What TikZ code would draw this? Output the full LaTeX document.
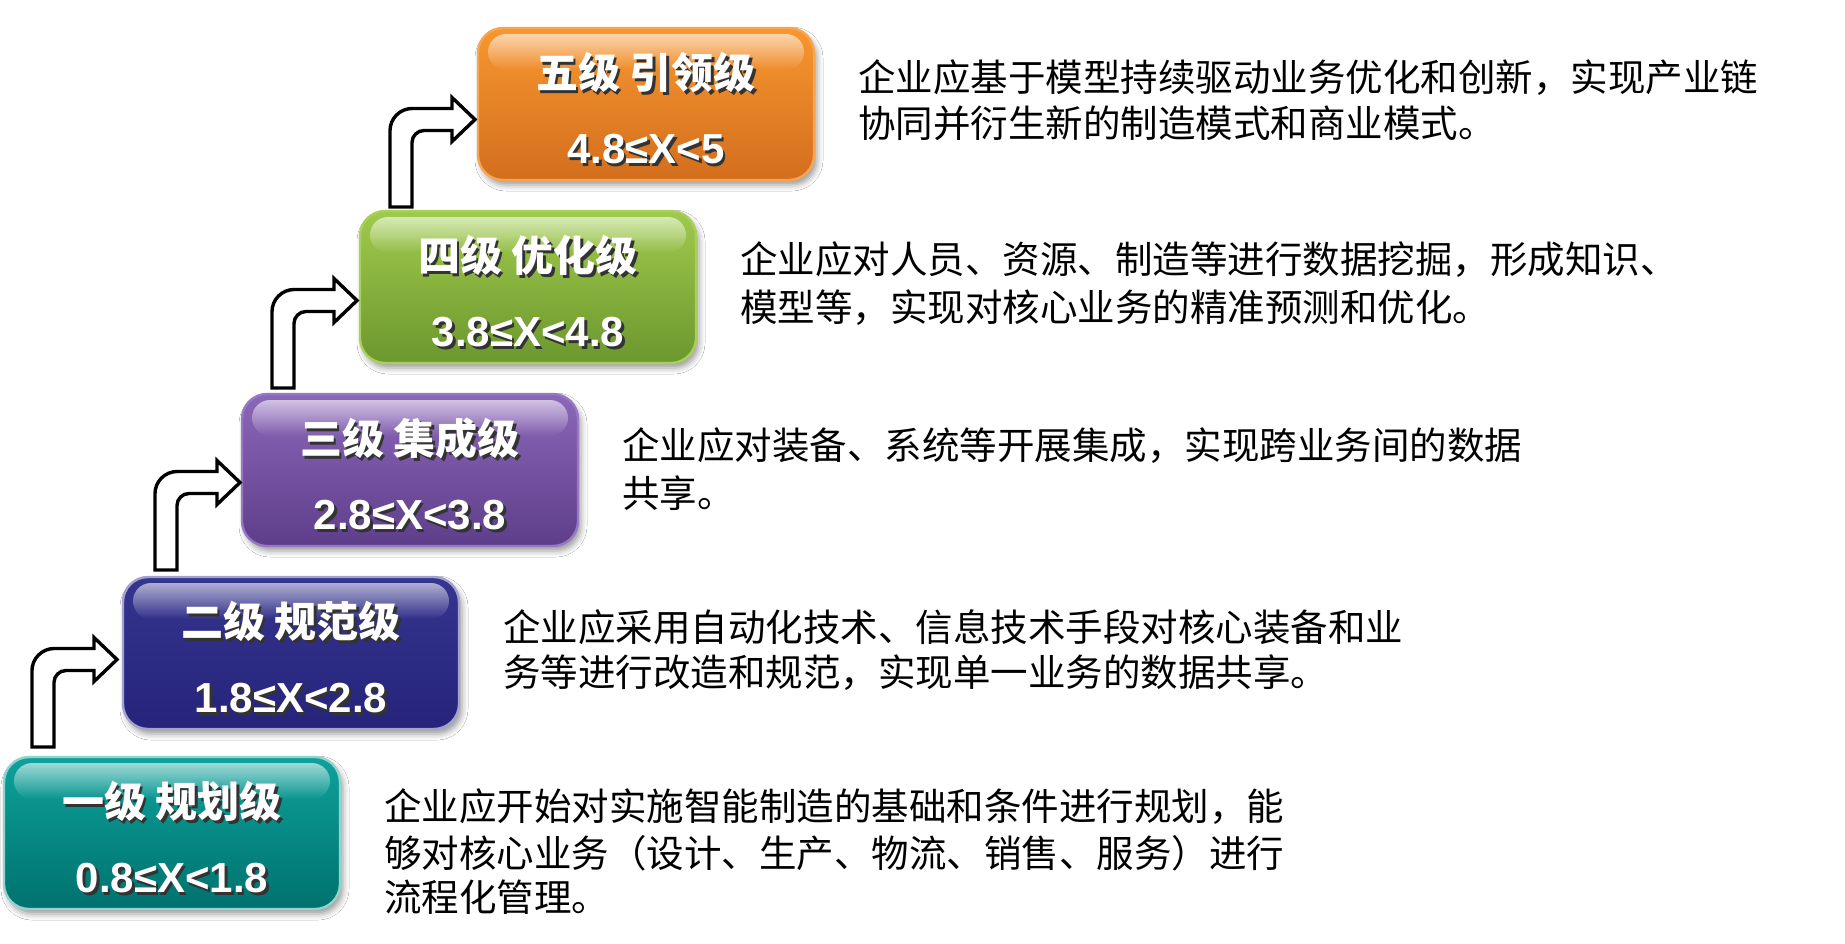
\documentclass[tikz,border=0pt]{standalone}
\usepackage{fontspec}
\setmainfont{Liberation Sans}
\newfontfamily\cjk{Noto Sans CJK SC}
\newfontfamily\arl{Liberation Sans}
\usetikzlibrary{calc,fadings,shadows.blur}
\definecolor{o1}{HTML}{F8962F}\definecolor{o2}{HTML}{D36E1D}\definecolor{oB}{HTML}{F6A552}
\definecolor{g1}{HTML}{A0CA4C}\definecolor{g2}{HTML}{6C972E}\definecolor{gB}{HTML}{A8D05A}
\definecolor{p1}{HTML}{8B67B8}\definecolor{p2}{HTML}{5E3E8B}\definecolor{pB}{HTML}{9678C4}
\definecolor{n1}{HTML}{36358F}\definecolor{n2}{HTML}{25237A}\definecolor{nB}{HTML}{A3A2CF}
\definecolor{c1}{HTML}{0DA29B}\definecolor{c2}{HTML}{00716E}\definecolor{cB}{HTML}{92D3CF}
\newcommand\bentarr[1]{\draw[barr, shift={(#1)}] (0,0) -- (0,-76.5)
  .. controls +(0,-12) and +(-12,0) .. (22,-98.5) -- (62,-98.5) -- (62,-109.5)
  -- (85,-87.5) -- (62,-65.5) -- (62,-76.5) -- (34,-76.5)
  .. controls +(-6.6,0) and +(0,-6.6) .. (22,-64.5) -- (22,0) -- cycle;}
\newcommand\gloss[1]{\fill[white, fill opacity=0.6, path fading=south, rounded corners=9pt]
  ($(#1.north west)+(10,6)$) rectangle ($(#1.north east)+(-10,42)$);}
\begin{document}
\begin{tikzpicture}[x=0.5pt,y=-0.5pt,
  lvbox/.style={rounded corners=12.5pt, minimum width=168pt, minimum height=76pt,
    inner sep=0pt, outer sep=0pt, line width=1.2pt,
    blur shadow={shadow xshift=1.5pt, shadow yshift=-2.5pt, shadow blur radius=3pt, shadow opacity=40}},
  ttl/.style={anchor=base, inner sep=0pt, font=\cjk\bfseries\fontsize{21}{21}\selectfont, text=white},
  rng/.style={anchor=base, inner sep=0pt, font=\arl\bfseries\fontsize{21}{21}\selectfont, text=white},
  shd/.style={text=black!80},
  dsc/.style={anchor=base west, inner sep=0pt, font=\cjk\fontsize{18.75}{18.75}\selectfont, text=black},
  barr/.style={draw=black, line width=1.7pt, fill=white, line join=miter}]
\useasboundingbox (0,0) rectangle (1845,943);
\fill[white] (0,0) rectangle (1845,943);

% boxes
\node[lvbox, top color=c1, bottom color=c2, draw=cB] (b1) at (172,833) {};
\node[lvbox, top color=n1, bottom color=n2, draw=nB] (b2) at (291,653) {};
\node[lvbox, top color=p1, bottom color=p2, draw=pB] (b3) at (410,470) {};
\node[lvbox, top color=g1, bottom color=g2, draw=gB] (b4) at (528,287) {};
\node[lvbox, top color=o1, bottom color=o2, draw=oB] (b5) at (646,104) {};
\gloss{b1}\gloss{b2}\gloss{b3}\gloss{b4}\gloss{b5}

% titles
\foreach \b/\t/\r in {b1/一级 规划级/0.8≤X<1.8, b2/二级 规范级/1.8≤X<2.8, b3/三级 集成级/2.8≤X<3.8,
  b4/四级 优化级/3.8≤X<4.8, b5/五级 引领级/4.8≤X<5}{
  \node[ttl, shd] (\b ts) at ($(\b.north)+(2.5,63)$) {\t};
  \node[ttl] (\b t) at ($(\b.north)+(0,60)$) {\t};
  \node[rng, shd] (\b rs) at ($(\b.north)+(2.5,138)$) {\r};
  \node[rng] (\b r) at ($(\b.north)+(0,135)$) {\r};
}

% arrows
\coordinate (a1) at (32,747);
\coordinate (a2) at (155,570);
\coordinate (a3) at (272,388);
\coordinate (a4) at (390,207);
\bentarr{a1}\bentarr{a2}\bentarr{a3}\bentarr{a4}

% descriptions
\node[dsc] (d5a) at ($(b5.north east)+(44,63)$) {企业应基于模型持续驱动业务优化和创新，实现产业链};
\node[dsc] (d5b) at ($(b5.north east)+(44,109)$) {协同并衍生新的制造模式和商业模式。};
\node[dsc] (d4a) at ($(b4.north east)+(44,62)$) {企业应对人员、资源、制造等进行数据挖掘，形成知识、};
\node[dsc] (d4b) at ($(b4.north east)+(44,110)$) {模型等，实现对核心业务的精准预测和优化。};
\node[dsc] (d3a) at ($(b3.north east)+(44,65)$) {企业应对装备、系统等开展集成，实现跨业务间的数据};
\node[dsc] (d3b) at ($(b3.north east)+(44,113)$) {共享。};
\node[dsc] (d2a) at ($(b2.north east)+(44,64)$) {企业应采用自动化技术、信息技术手段对核心装备和业};
\node[dsc] (d2b) at ($(b2.north east)+(44,109)$) {务等进行改造和规范，实现单一业务的数据共享。};
\node[dsc] (d1a) at ($(b1.north east)+(44,63)$) {企业应开始对实施智能制造的基础和条件进行规划，能};
\node[dsc] (d1b) at ($(b1.north east)+(44,110)$) {够对核心业务（设计、生产、物流、销售、服务）进行};
\node[dsc] (d1c) at ($(b1.north east)+(44,154)$) {流程化管理。};
\end{tikzpicture}
\end{document}
